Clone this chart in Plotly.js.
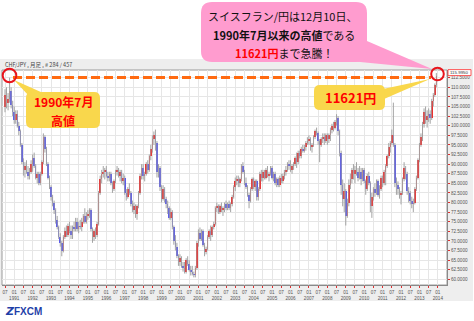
<!DOCTYPE html>
<html><head><meta charset="utf-8">
<script src="https://cdn.plot.ly/plotly-3.0.1.min.js"></script>
<style>html,body{margin:0;padding:0;background:#fff;overflow:hidden}#chart{width:474px;height:321px}</style>
</head><body><div id="chart"></div>
<script>
// Monthly CHF/JPY candles, Jul 1990 .. Dec 2013 (one row per year)
const openP = [
105.0,108.0,106.0,107.0,109.0,105.5,
103.5,101.5,103.0,100.0,98.5,95.0,90.5,88.5,89.5,88.0,87.0,88.0,
90.0,91.5,89.5,86.5,87.5,85.0,87.5,90.5,97.0,94.0,90.0,86.5,
84.0,81.5,80.0,78.0,75.5,73.5,71.0,69.5,67.5,71.0,72.5,71.5,
74.0,72.5,71.5,73.5,73.0,75.0,73.0,74.0,73.5,75.0,76.5,75.0,
76.5,77.0,78.0,73.0,71.0,72.5,71.5,74.5,82.5,86.0,87.5,88.0,
88.5,87.0,86.5,87.5,85.0,83.5,85.5,88.0,88.5,87.0,88.0,85.5,
86.5,82.5,81.5,83.5,82.5,79.5,78.0,79.0,77.0,79.0,82.5,87.0,
89.0,87.0,87.5,90.0,88.5,92.0,94.0,96.5,97.5,95.5,88.0,89.0,
84.0,81.0,83.5,81.0,79.5,78.5,76.0,77.5,73.5,70.0,68.5,66.0,
64.5,65.5,63.5,63.0,62.0,65.0,64.0,62.5,62.0,61.5,61.0,63.0,
69.5,72.0,70.5,72.5,69.0,67.0,68.0,71.0,72.5,71.5,73.5,74.5,
78.5,79.0,77.5,79.0,78.0,78.5,79.5,78.5,79.5,78.5,79.5,81.5,
84.0,85.5,86.0,85.0,86.0,89.5,88.0,85.0,84.0,82.0,80.5,83.5,
86.0,84.0,85.5,81.5,83.5,87.5,86.5,88.0,86.5,88.5,87.0,87.5,
89.0,86.5,87.5,85.0,86.0,84.5,86.5,85.5,87.0,88.0,88.5,90.0,
89.5,88.5,89.5,90.0,91.5,90.5,93.0,92.0,94.0,93.5,94.5,95.5,
96.0,96.5,94.5,95.0,97.0,98.5,98.0,96.0,95.0,96.5,97.0,96.0,
97.5,96.5,97.5,99.0,100.0,99.5,101.0,102.0,98.5,93.0,84.5,81.0,
83.0,76.5,80.0,84.5,86.0,88.5,87.5,88.5,88.0,86.5,88.0,86.0,
88.5,85.5,83.5,87.0,85.0,79.0,81.5,83.5,82.5,85.5,82.0,83.5,
86.5,85.0,88.0,89.5,92.0,94.5,95.5,97.5,95.0,85.0,84.5,83.5,
82.0,82.5,86.0,89.0,87.5,83.0,82.5,80.5,79.5,80.0,83.5,86.5,
91.0,95.0,97.0,100.5,103.5,101.5,102.5,103.0,102.0,106.5,108.0,110.5];
const highP = [
109.5,110.0,108.5,112.5,110.0,106.5,
105.0,104.0,104.0,101.0,99.0,95.5,91.5,90.5,91.0,89.5,89.0,91.0,
92.5,93.0,90.0,88.0,88.0,88.0,91.0,98.0,97.5,94.5,90.5,87.0,
84.5,82.0,80.5,78.5,76.5,74.0,72.0,70.0,71.5,73.5,74.0,74.5,
75.0,74.0,74.0,75.0,76.0,76.0,75.0,75.5,76.0,77.0,78.5,77.5,
78.0,78.5,78.5,73.5,73.0,73.5,75.0,83.0,87.0,88.5,89.5,89.0,
89.5,88.0,88.0,88.0,85.5,86.0,88.5,89.5,89.0,88.5,88.5,87.5,
87.0,83.5,84.0,85.0,83.0,80.5,80.0,79.5,79.5,83.0,87.5,90.0,
90.0,88.0,90.5,91.0,92.5,95.0,97.5,98.5,99.0,96.0,90.0,89.5,
84.5,84.5,84.0,81.5,80.5,79.0,78.5,78.0,74.0,71.5,69.5,66.5,
66.5,66.0,64.5,64.5,65.5,66.0,65.0,63.5,63.5,62.0,63.5,70.0,
73.0,73.5,73.0,73.0,69.5,68.5,71.5,73.0,74.0,74.0,75.0,79.0,
80.0,79.5,79.5,80.0,79.0,80.0,80.5,80.0,80.5,80.0,82.0,84.5,
86.5,87.0,87.0,86.5,90.0,90.5,88.5,86.5,84.5,82.5,84.0,86.5,
86.5,86.0,86.0,84.0,88.0,88.5,88.5,88.5,89.0,89.5,88.0,89.5,
89.5,88.0,88.0,86.5,86.5,87.0,87.5,87.5,88.5,89.5,90.5,91.0,
91.0,90.0,90.5,92.0,93.0,93.5,93.5,94.5,95.0,95.0,96.0,97.0,
97.5,97.0,95.5,97.5,99.0,99.5,98.5,96.5,97.0,98.0,98.0,98.0,
98.0,98.0,99.5,100.5,101.0,101.5,103.0,102.5,99.0,93.5,86.0,85.0,
83.5,81.0,86.0,87.5,89.0,90.0,89.5,90.5,89.0,89.5,89.0,89.0,
89.0,86.0,87.5,88.0,85.5,82.5,84.0,85.0,86.0,86.0,84.5,87.0,
87.0,88.5,90.0,92.5,95.5,96.0,99.0,106.0,95.5,86.5,85.5,84.0,
83.0,86.5,90.5,89.5,88.0,84.0,83.0,81.5,81.0,84.0,87.0,91.5,
95.5,98.0,101.0,104.5,105.0,104.0,104.5,104.0,107.0,108.5,111.0,113.7];
const lowP = [
103.5,104.5,104.0,106.0,104.5,102.5,
100.5,100.5,99.5,97.5,94.5,90.0,87.0,86.5,87.5,86.0,86.0,87.5,
88.0,89.0,86.0,85.0,84.5,84.5,87.0,90.0,93.0,89.5,86.0,83.5,
80.5,79.0,77.0,74.5,73.0,70.5,68.5,66.0,67.0,70.5,71.0,71.0,
72.0,70.5,70.5,72.5,72.5,72.5,72.0,73.0,72.5,74.5,74.5,74.5,
75.5,76.0,72.5,69.5,70.0,70.5,71.0,74.0,82.0,85.0,86.5,86.0,
86.5,85.5,85.5,84.5,82.5,83.0,85.0,87.0,86.5,85.5,85.0,84.5,
82.0,80.5,81.0,82.0,79.0,77.5,77.0,76.0,75.5,78.5,82.0,86.0,
86.0,85.5,87.0,87.5,88.0,91.0,93.0,95.0,93.5,86.5,86.5,83.0,
80.0,80.5,80.0,78.5,77.0,75.5,75.5,73.0,69.0,67.5,65.5,63.5,
63.5,63.0,62.0,61.5,61.5,63.5,62.0,61.0,61.0,60.5,60.5,62.5,
68.5,70.0,70.0,68.5,66.0,66.5,67.5,70.5,70.0,71.0,73.0,74.0,
77.5,77.0,77.0,77.5,76.5,77.5,78.0,78.0,78.0,77.5,79.0,81.0,
83.0,84.5,84.0,84.0,85.5,87.5,84.5,83.5,81.5,78.5,80.0,83.0,
83.5,83.0,80.5,80.5,83.0,85.5,85.5,86.0,86.0,86.5,85.5,87.0,
86.0,85.5,84.5,84.0,84.0,84.0,85.0,85.0,86.0,87.0,88.0,88.5,
88.0,87.5,88.5,89.5,89.0,90.0,91.5,91.5,93.0,93.0,93.5,95.0,
95.0,93.5,93.0,94.5,96.5,97.5,95.0,90.5,94.5,95.5,95.0,95.5,
95.0,95.5,96.0,98.0,98.5,99.0,100.0,97.5,92.0,82.0,79.0,77.5,
74.0,76.0,79.0,83.5,85.0,86.0,85.0,87.0,85.5,86.0,84.5,85.5,
85.0,82.0,83.0,84.5,77.5,76.0,80.5,81.5,82.0,81.5,81.0,83.0,
84.0,84.5,84.5,89.0,91.5,93.0,95.0,94.5,84.0,82.0,82.0,81.0,
79.5,82.0,85.5,86.0,82.0,80.0,79.5,78.5,77.5,79.5,83.0,86.0,
90.5,94.5,96.0,99.5,100.5,99.5,101.0,100.5,101.5,105.0,107.5,110.0];
const closeP = [
108.0,106.0,107.0,109.0,105.5,103.5,
101.5,103.0,100.0,98.5,95.0,90.5,88.5,89.5,88.0,87.0,88.0,90.0,
91.5,89.5,86.5,87.5,85.0,87.5,90.5,97.0,94.0,90.0,86.5,84.0,
81.5,80.0,78.0,75.5,73.5,71.0,69.5,67.5,71.0,72.5,71.5,74.0,
72.5,71.5,73.5,73.0,75.0,73.0,74.0,73.5,75.0,76.5,75.0,76.5,
77.0,78.0,73.0,71.0,72.5,71.5,74.5,82.5,86.0,87.5,88.0,88.5,
87.0,86.5,87.5,85.0,83.5,85.5,88.0,88.5,87.0,88.0,85.5,86.5,
82.5,81.5,83.5,82.5,79.5,78.0,79.0,77.0,79.0,82.5,87.0,89.0,
87.0,87.5,90.0,88.5,92.0,94.0,96.5,97.5,95.5,88.0,89.0,84.0,
81.0,83.5,81.0,79.5,78.5,76.0,77.5,73.5,70.0,68.5,66.0,64.5,
65.5,63.5,63.0,62.0,65.0,64.0,62.5,62.0,61.5,61.0,63.0,69.5,
72.0,70.5,72.5,69.0,67.0,68.0,71.0,72.5,71.5,73.5,74.5,78.5,
79.0,77.5,79.0,78.0,78.5,79.5,78.5,79.5,78.5,79.5,81.5,84.0,
85.5,86.0,85.0,86.0,89.5,88.0,85.0,84.0,82.0,80.5,83.5,86.0,
84.0,85.5,81.5,83.5,87.5,86.5,88.0,86.5,88.5,87.0,87.5,89.0,
86.5,87.5,85.0,86.0,84.5,86.5,85.5,87.0,88.0,88.5,90.0,89.5,
88.5,89.5,90.0,91.5,90.5,93.0,92.0,94.0,93.5,94.5,95.5,96.0,
96.5,94.5,95.0,97.0,98.5,98.0,96.0,95.0,96.5,97.0,96.0,97.5,
96.5,97.5,99.0,100.0,99.5,101.0,102.0,98.5,93.0,84.5,81.0,83.0,
76.5,80.0,84.5,86.0,88.5,87.5,88.5,88.0,86.5,88.0,86.0,88.5,
85.5,83.5,87.0,85.0,79.0,81.5,83.5,82.5,85.5,82.0,83.5,86.5,
85.0,88.0,89.5,92.0,94.5,95.5,97.5,95.0,85.0,84.5,83.5,82.0,
82.5,86.0,89.0,87.5,83.0,82.5,80.5,79.5,80.0,83.5,86.5,91.0,
95.0,97.0,100.5,103.5,101.5,102.5,103.0,102.0,106.5,108.0,110.5,113.0];

const tickYears = [1991,1992,1993,1994,1995,1996,1997,1998,1999,2000,2001,2002,2003,2004,2005,2006,2007,2008,2009,2010,2011,2012,2013,2014];
const yTicks = [60,62.5,65,67.5,70,72.5,75,77.5,80,82.5,85,87.5,90,92.5,95,97.5,100,102.5,105,107.5,110,112.5];
const chartTitle = 'CHF/JPY , 月足 , # 284 / 457';
const lastPriceLabel = '115.9950';

// month index 0 = Jul 1990
const idx = closeP.map((_, i) => i);

// pixel frame
const W = 474, H = 321, L = 2, R = 447, T = 70, B = 285;
const px = x => (x - L) / (R - L);
const py = y => (B - y) / (B - T);
function rrect(x0, y0, x1, y1, r) {
  const P = (x, y) => px(x).toFixed(5) + ',' + py(y).toFixed(5);
  return `M${P(x0 + r, y0)} L${P(x1 - r, y0)} Q${P(x1, y0)} ${P(x1, y0 + r)} L${P(x1, y1 - r)} Q${P(x1, y1)} ${P(x1 - r, y1)} L${P(x0 + r, y1)} Q${P(x0, y1)} ${P(x0, y1 - r)} L${P(x0, y0 + r)} Q${P(x0, y0)} ${P(x0 + r, y0)} Z`;
}
function tri(a, b, c) {
  const P = (p) => px(p[0]).toFixed(5) + ',' + py(p[1]).toFixed(5);
  return `M${P(a)} L${P(b)} L${P(c)} Z`;
}
function circ(cx, cy, r, color) {
  return {type: 'circle', xref: 'paper', yref: 'paper', x0: px(cx - r), x1: px(cx + r), y0: py(cy + r), y1: py(cy - r), line: {color: color, width: 2}, fillcolor: 'rgba(0,0,0,0)'};
}

// wick trace
const wx = [], wy = [];
idx.forEach(i => { wx.push(i, i, null); wy.push(lowP[i], highP[i], null); });
const wicks = {type: 'scatter', mode: 'lines', x: wx, y: wy, line: {color: '#a3a3a3', width: 1}, hoverinfo: 'skip', showlegend: false};
const bodies = {
  type: 'bar', x: idx,
  base: idx.map(i => Math.min(openP[i], closeP[i])),
  y: idx.map(i => Math.abs(closeP[i] - openP[i])),
  width: 1.0,
  marker: {color: idx.map(i => closeP[i] >= openP[i] ? '#ff1010' : '#4646ff'), line: {width: 0}},
  hoverinfo: 'skip', showlegend: false
};

const xTickVals = [0], xTickText = ['07'];
tickYears.forEach((yr, k) => {
  xTickVals.push(6 + 12 * k); xTickText.push('01<br>' + yr);
  if (yr < 2014) { xTickVals.push(12 + 12 * k); xTickText.push('07'); }
});

const xMin = (L - 5) / 1.535, xMax = (R - 5) / 1.535;
const yAt = y => 60 + (279.3 - y) / 3.84;

const tickFont = {family: 'Liberation Sans, Arial, sans-serif', size: 4.6, color: '#555'};
const cjk = 'Noto Sans CJK JP, sans-serif';
const layout = {
  width: W, height: H,
  margin: {l: L, r: W - R, t: T, b: H - B, pad: 0},
  paper_bgcolor: '#ffffff', plot_bgcolor: 'rgba(0,0,0,0)',
  showlegend: false, bargap: 0,
  xaxis: {range: [xMin, xMax], tickvals: xTickVals, ticktext: xTickText, tickfont: tickFont, tickangle: 0,
    ticks: 'outside', ticklen: 2, tickcolor: '#e03030', tickwidth: 1,
    showgrid: true, gridcolor: '#e6e6e6', gridwidth: 1, zeroline: false,
    showline: true, linecolor: '#8a8a8a', linewidth: 1, fixedrange: true},
  yaxis: {range: [yAt(B), yAt(T)], side: 'right', tickvals: yTicks, ticktext: yTicks.map(v => v.toFixed(4)),
    tickfont: tickFont, ticks: 'outside', ticklen: 2, tickcolor: '#e03030', tickwidth: 1,
    showgrid: true, gridcolor: '#e6e6e6', gridwidth: 1, zeroline: false,
    showline: true, linecolor: '#8a8a8a', linewidth: 1, fixedrange: true},
  shapes: [
    {type: 'rect', xref: 'paper', yref: 'paper', layer: 'below', x0: px(0), x1: px(473), y0: py(301), y1: py(59), fillcolor: '#eeeeee', line: {width: 0}},
    {type: 'rect', xref: 'paper', yref: 'paper', layer: 'below', x0: 0, x1: 1, y0: 0, y1: 1, fillcolor: '#ffffff', line: {color: '#9a9a9a', width: 1}},
    // last price box
    {type: 'rect', xref: 'paper', yref: 'paper', x0: px(448), x1: px(471), y0: py(75.6), y1: py(69.6), fillcolor: '#ffffff', line: {color: '#ff3030', width: 0.8}},
    // pink callout
    {type: 'path', xref: 'paper', yref: 'paper', path: tri([360, 38], [350, 61], [432, 69]), fillcolor: '#ff9ccf', line: {width: 0}},
    {type: 'path', xref: 'paper', yref: 'paper', path: rrect(201, 2, 367, 62, 11), fillcolor: '#ff9ccf', line: {width: 0}},
    // dashed level line
    {type: 'line', xref: 'paper', yref: 'paper', x0: px(13), x1: px(431), y0: py(77.5), y1: py(77.5), line: {color: '#ff6a10', width: 3.2, dash: '9px,4px'}},
    // yellow callouts
    {type: 'path', xref: 'paper', yref: 'paper', path: tri([29, 96], [42, 92.5], [14, 80]), fillcolor: '#f9d74c', line: {width: 0}},
    {type: 'path', xref: 'paper', yref: 'paper', path: rrect(26, 92, 100, 128, 6), fillcolor: '#f9d74c', line: {width: 0}},
    {type: 'path', xref: 'paper', yref: 'paper', path: tri([383, 89], [384, 99], [430, 79]), fillcolor: '#f9d74c', line: {width: 0}},
    {type: 'path', xref: 'paper', yref: 'paper', path: rrect(314, 85, 385, 110, 6), fillcolor: '#f9d74c', line: {width: 0}},
    circ(9.5, 75.5, 6.8, '#e8141c'),
    circ(437.5, 74, 6.3, '#e8141c')
  ],
  annotations: [
    {xref: 'paper', yref: 'paper', x: px(3), y: py(65), xanchor: 'left', yanchor: 'middle', showarrow: false, text: chartTitle, font: {family: cjk, size: 5.5, color: '#444'}},
    {xref: 'paper', yref: 'paper', x: px(459.5), y: py(72.6), xanchor: 'center', yanchor: 'middle', showarrow: false, text: lastPriceLabel, font: {family: 'Liberation Sans, Arial, sans-serif', size: 4.4, color: '#333'}},
    {xref: 'paper', yref: 'paper', x: px(282), y: py(16), xanchor: 'center', yanchor: 'middle', showarrow: false, text: 'スイスフラン/円は12月10日、', font: {family: cjk, size: 11, color: '#111'}},
    {xref: 'paper', yref: 'paper', x: px(284), y: py(35), xanchor: 'center', yanchor: 'middle', showarrow: false, text: '<b>1990年7月以来の高値</b>である', font: {family: cjk, size: 11, color: '#111'}},
    {xref: 'paper', yref: 'paper', x: px(284), y: py(53), xanchor: 'center', yanchor: 'middle', showarrow: false, text: '<span style="color:#ff0000"><b>11621円</b></span>まで急騰！', font: {family: cjk, size: 11, color: '#111'}},
    {xref: 'paper', yref: 'paper', x: px(63), y: py(101), xanchor: 'center', yanchor: 'middle', showarrow: false, borderpad: 0, text: '<b>1990年7月</b>', font: {family: cjk, size: 12, color: '#ff0000'}},
    {xref: 'paper', yref: 'paper', x: px(63), y: py(120.5), xanchor: 'center', yanchor: 'middle', showarrow: false, borderpad: 0, text: '<b>高値</b>', font: {family: cjk, size: 12, color: '#ff0000'}},
    {xref: 'paper', yref: 'paper', x: px(350), y: py(97.5), xanchor: 'center', yanchor: 'middle', showarrow: false, text: '<b>11621円</b>', font: {family: cjk, size: 13, color: '#ff0000'}},
    {xref: 'paper', yref: 'paper', x: px(3), y: py(311), xanchor: 'left', yanchor: 'middle', showarrow: false, text: '<b><i>Z</i></b>', font: {family: 'DejaVu Sans, sans-serif', size: 11, color: '#1f3fa8'}},
    {xref: 'paper', yref: 'paper', x: px(12), y: py(311), xanchor: 'left', yanchor: 'middle', showarrow: false, text: '<b>FXCM</b>', font: {family: 'Liberation Sans, Arial, sans-serif', size: 10, color: '#1f3fa8'}}
  ]
};
Plotly.newPlot('chart', [wicks, bodies], layout, {displayModeBar: false, staticPlot: true});
</script></body></html>
